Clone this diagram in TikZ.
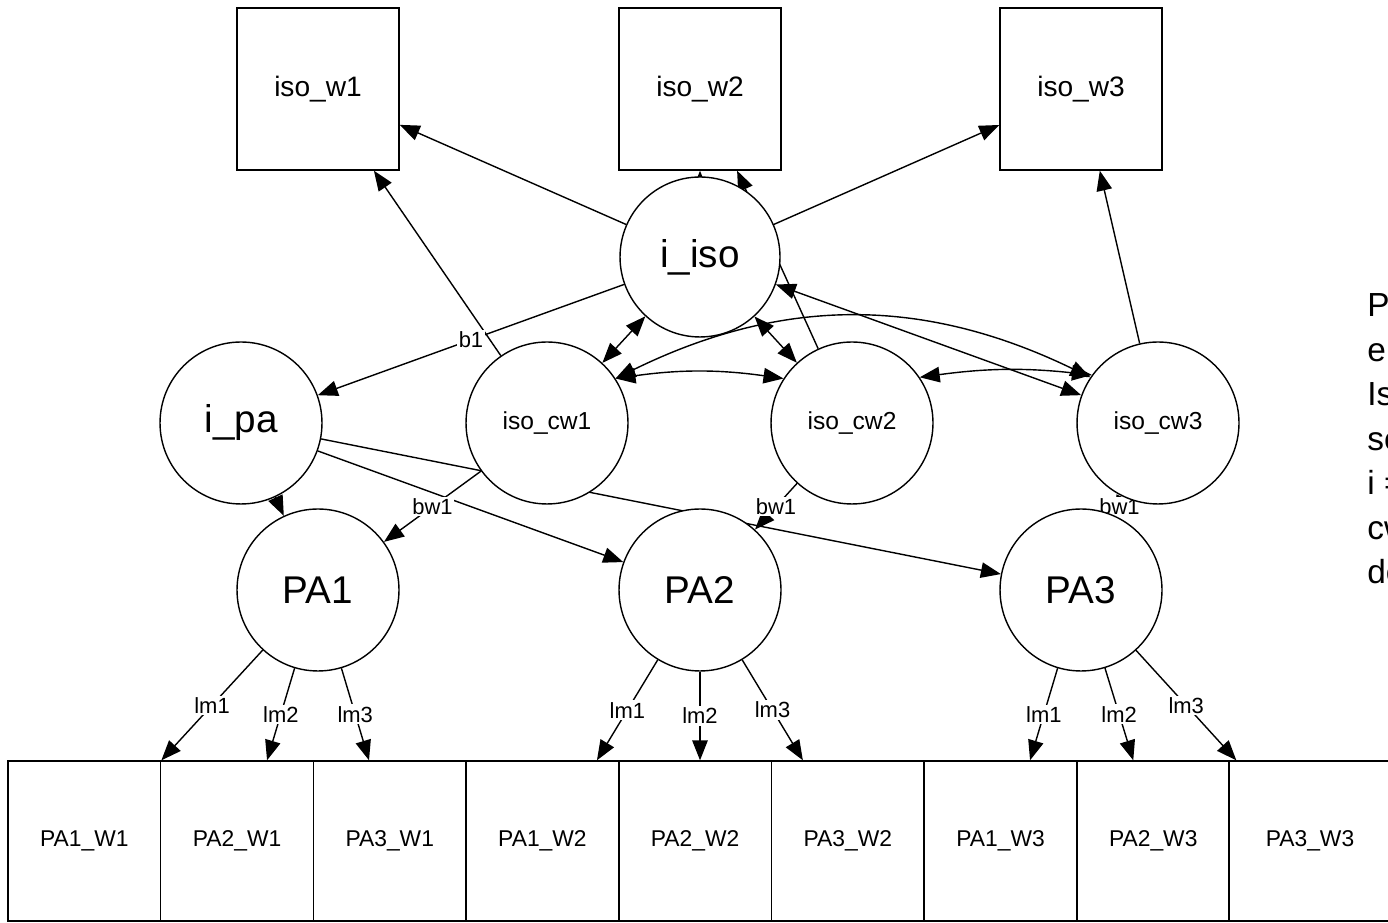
\documentclass[tikz,border=0pt]{standalone}
\usepackage{fontspec}
\setmainfont{Liberation Sans}
\usetikzlibrary{arrows.meta, backgrounds}

\begin{document}
\begin{tikzpicture}[x=0.02cm, y=0.02cm,
    >={Triangle[length=0.4cm, width=0.31cm]},
    wbox/.style={draw, rectangle, fill=white, line width=0.8pt, minimum width=3.24cm, minimum height=3.24cm, inner sep=0pt, font=\fontsize{16}{19}\selectfont},
    cell/.style={draw, rectangle, fill=white, line width=0.8pt, minimum width=3.054cm, minimum height=3.2cm, inner sep=0pt, font=\fontsize{13}{15}\selectfont},
    circ/.style={draw, circle, fill=white, line width=0.8pt, minimum size=3.24cm, inner sep=0pt, font=\fontsize{22}{26}\selectfont},
    cwcirc/.style={circ, font=\fontsize{14}{17}\selectfont},
    lbl/.style={fill=white, inner sep=1pt, font=\fontsize{12.5}{15}\selectfont},
    notetext/.style={anchor=base west, inner sep=0pt, font=\fontsize{19}{23}\selectfont},
    link/.style={->, line width=0.8pt},
    dlink/.style={<->, line width=0.8pt}
]
    \useasboundingbox (0,0) rectangle (1388,922);

    % Top boxes
    \node (isow1) [wbox] at (318, 833) {iso\_w1};
    \node (isow2) [wbox] at (700, 833) {iso\_w2};
    \node (isow3) [wbox] at (1081, 833) {iso\_w3};

    % Circles
    \node (iiso) [circ, minimum size=3.2cm] at (700, 665) {i\_iso};
    \node (ipa) [circ] at (241, 499) {i\_pa};
    \node (isocw1) [cwcirc] at (547, 499) {iso\_cw1};
    \node (isocw2) [cwcirc] at (852, 499) {iso\_cw2};
    \node (isocw3) [cwcirc] at (1158, 499) {iso\_cw3};
    \node (pa1) [circ] at (318, 332) {PA1};
    \node (pa2) [circ] at (700, 332) {PA2};
    \node (pa3) [circ] at (1081, 332) {PA3};

    % Bottom row
    \node (pa1w1) [cell] at (84.35, 81) {PA1\_W1};
    \node (pa2w1) [cell] at (237.05, 81) {PA2\_W1};
    \node (pa3w1) [cell] at (389.75, 81) {PA3\_W1};
    \node (pa1w2) [cell] at (542.45, 81) {PA1\_W2};
    \node (pa2w2) [cell] at (695.15, 81) {PA2\_W2};
    \node (pa3w2) [cell] at (847.85, 81) {PA3\_W2};
    \node (pa1w3) [cell] at (1000.55, 81) {PA1\_W3};
    \node (pa2w3) [cell] at (1153.25, 81) {PA2\_W3};
    \node (pa3w3) [cell, minimum width=3.24cm] at (1310, 81) {PA3\_W3};

    % Side note (cut by the page edge)
    \node (note1) [notetext] at (1367, 605) {P};
    \node (note2) [notetext] at (1367, 560.5) {e};
    \node (note3) [notetext] at (1367, 516) {Is};
    \node (note4) [notetext] at (1367, 471.5) {se};
    \node (note5) [notetext] at (1367, 427) {i =};
    \node (note6) [notetext] at (1367, 382.5) {cw};
    \node (note7) [notetext] at (1367, 338) {de};

    % Connections
    \begin{scope}[on background layer]
    \draw [link] (iiso) -- (isow1);
    \draw [link] (iiso) -- (isow2);
    \draw [link] (iiso) -- (isow3);
    \draw [link] (isocw1) -- (isow1);
    \draw [link] (isocw2) -- (isow2);
    \draw [link] (isocw3) -- (isow3);

    \draw [link] (iiso) -- node[lbl] {b1} (ipa);
    \draw [dlink] (iiso) -- (isocw1);
    \draw [dlink] (iiso) -- (isocw2);
    \draw [dlink] (iiso) -- (isocw3);

    \draw [dlink] (isocw1.33) to[bend left=8] (isocw2.147);
    \draw [dlink] (isocw2.34) to[bend left=7] (isocw3.144);
    \draw [dlink] (isocw1.33) to[bend left=26] (isocw3.146);

    \draw [link] (ipa) -- (pa1);
    \draw [link] (ipa) -- (pa2);
    \draw [link] (ipa) -- (pa3);
    \draw [link] (isocw1) -- node[lbl] {bw1} (pa1);
    \draw [link] (isocw2) -- node[lbl] {bw1} (pa2);
    \draw [link] (isocw3) -- node[lbl] {bw1} (pa3);

    \draw [link] (pa1) -- node[lbl] {lm1} (pa1w1.north east);
    \draw [link] (pa1) -- node[lbl] {lm2} ([xshift=0.6cm]pa2w1.north);
    \draw [link] (pa1) -- node[lbl] {lm3} ([xshift=-0.415cm]pa3w1.north);
    \draw [link] (pa2) -- node[lbl] {lm1} ([xshift=1.09cm]pa1w2.north);
    \draw [link] (pa2) -- node[lbl] {lm2} (pa2 |- pa2w2.north);
    \draw [link] (pa2) -- node[lbl] {lm3} ([xshift=-0.9cm]pa3w2.north);
    \draw [link] (pa3) -- node[lbl] {lm1} ([xshift=0.59cm]pa1w3.north);
    \draw [link] (pa3) -- node[lbl] {lm2} ([xshift=-0.4cm]pa2w3.north);
    \draw [link] (pa3) -- node[lbl] {lm3} ([xshift=0.16cm]pa3w3.north west);
    \end{scope}
\end{tikzpicture}
\end{document}
